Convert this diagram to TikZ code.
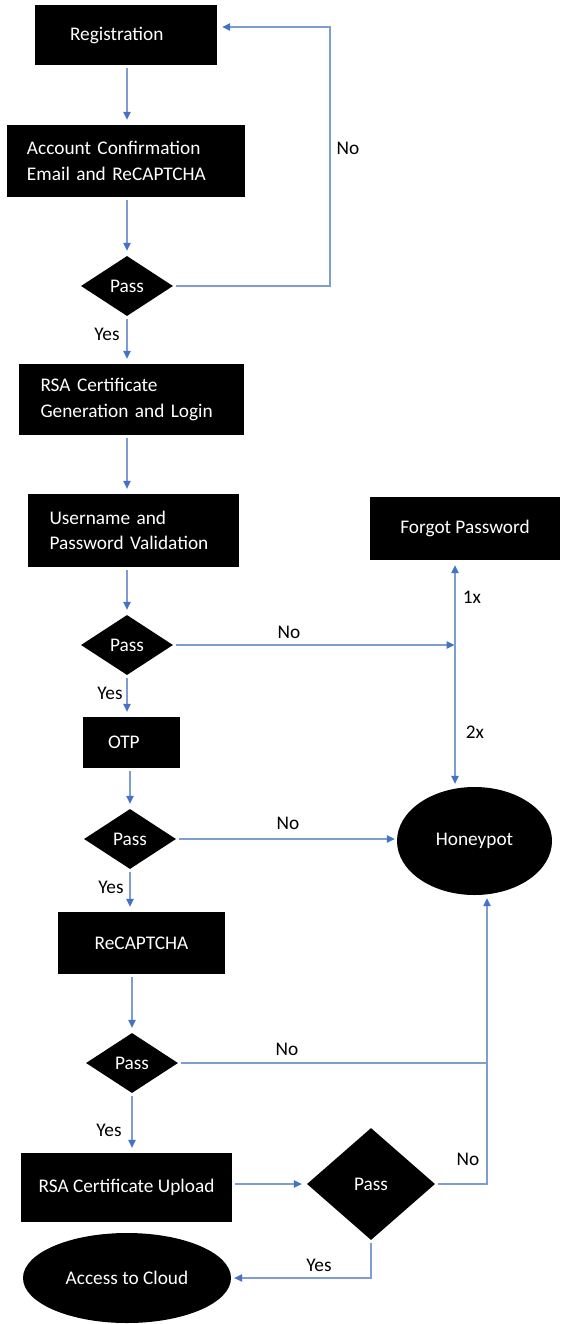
\documentclass[tikz,border=0pt]{standalone}
\usepackage{fontspec}
\setmainfont{Carlito}
\usetikzlibrary{shapes.geometric,arrows.meta}
\definecolor{flowline}{HTML}{7F9DD0}
\definecolor{flowhead}{HTML}{4472C4}
\begin{document}
\begin{tikzpicture}[x=1pt,y=-1pt,
  font=\fontsize{19.3}{25.5}\selectfont,
  stepbox/.style={rectangle, fill=black, text=white, inner ysep=0pt},
  decision/.style={diamond, fill=black, text=white, inner sep=0pt,
    minimum width=92pt, minimum height=60pt},
  terminal/.style={ellipse, fill=black, text=white, inner sep=0pt},
  flow/.style={draw=flowline, line width=1.1pt},
  arr/.style={flow, -{Triangle[length=8pt,width=7.5pt,color=flowhead]},
    shorten >=5pt, shorten <=3pt},
  lbl/.style={text=black, inner sep=0pt}]
\useasboundingbox (0,0) rectangle (560,1324);

% process boxes
\node[stepbox, minimum height=60pt, inner xsep=35pt, text width=112pt, align=left]
  (reg) at (126,35) {Registration};
\node[stepbox, minimum height=72pt, inner xsep=20pt, text width=198pt, align=left]
  (acc) at (126,161) {Account Confirmation\\Email and ReCAPTCHA};
\node[stepbox, minimum height=71pt, inner xsep=22pt, text width=181pt, align=left]
  (rsa) at (131,399.5) {RSA Certificate\\Generation and Login};
\node[stepbox, minimum height=73pt, inner xsep=22pt, text width=167pt, align=left]
  (user) at (133,530.5) {Username and\\Password Validation};
\node[stepbox, minimum height=63pt, minimum width=190pt]
  (forgot) at (465,528.5) {Forgot Password};
\node[stepbox, minimum height=51pt, inner xsep=25pt, text width=47pt, align=left]
  (otp) at (131.5,742.5) {OTP};
\node[stepbox, minimum height=62pt, minimum width=167pt]
  (recap) at (141.5,943) {ReCAPTCHA};
\node[stepbox, minimum height=69pt, minimum width=211pt]
  (upload) at (126.5,1187.5) {RSA Certificate Upload};

% decisions
\node[decision] (pass1) at (127,286) {Pass};
\node[decision] (pass2) at (127,645) {Pass};
\node[decision] (pass3) at (130,839) {Pass};
\node[decision] (pass4) at (132,1063) {Pass};
\node[decision, minimum width=128pt, minimum height=112pt] (pass5) at (371,1184) {Pass};

% terminals
\node[terminal, minimum width=155pt, minimum height=108pt] (honey) at (474.5,841) {Honeypot};
\node[terminal, minimum width=208pt, minimum height=90pt] (cloud) at (127,1278) {Access to Cloud};

% routing points
\coordinate (loopx) at (330,160);
\coordinate (fork) at (455,645);
\coordinate (joinx) at (487,1063);

% main sequence
\draw[arr] (reg.south -| pass1.center) -- (acc.north -| pass1.center);
\draw[arr] (acc.south -| pass1.center) -- (pass1.north);
\draw[arr] (pass1.south) -- (rsa.north -| pass1.center);
\draw[arr] (rsa.south -| pass2.center) -- (user.north -| pass2.center);
\draw[arr] (user.south -| pass2.center) -- (pass2.north);
\draw[arr] (pass2.south) -- (otp.north -| pass2.center);
\draw[arr] (otp.south -| pass3.center) -- (pass3.north);
\draw[arr] (pass3.south) -- (recap.north -| pass3.center);
\draw[arr] (recap.south -| pass4.center) -- (pass4.north);
\draw[arr] (pass4.south) -- (upload.north -| pass4.center);
\draw[arr] (upload.east |- pass5.west) -- (pass5.west);

% failure branches
\draw[arr] (pass1.east) -| (loopx) |- ([yshift=8pt]reg.east);
\draw[arr, shorten >=0.5pt] (pass2.east) -- (fork);
\draw[arr, shorten <=0pt] (fork) -- (forgot.south -| fork);
\draw[arr, shorten <=0pt, shorten >=3pt] (fork) -- (honey.north -| fork);
\draw[arr, shorten >=2pt] (pass3.east) -- (pass3.east -| honey.west);
\draw[flow, shorten <=3pt] (pass4.east) -- (joinx);
\draw[arr, shorten >=3pt] (pass5.east) -| (honey.south -| joinx);
\draw[arr, shorten >=3pt] (pass5.south) |- (cloud.east);

% branch labels
\node[lbl] (lno1) at (348,148) {No};
\node[lbl] (lyes1) at (107,334) {Yes};
\node[lbl] (lno2) at (289,632) {No};
\node[lbl] (l1x) at (472,597) {1x};
\node[lbl] (l2x) at (475,732) {2x};
\node[lbl] (lyes2) at (110,693) {Yes};
\node[lbl] (lno3) at (288,823) {No};
\node[lbl] (lyes3) at (111,887) {Yes};
\node[lbl] (lno4) at (287,1049) {No};
\node[lbl] (lyes4) at (109,1130) {Yes};
\node[lbl] (lno5) at (468,1159) {No};
\node[lbl] (lyes5) at (319,1265) {Yes};
\end{tikzpicture}
\end{document}
